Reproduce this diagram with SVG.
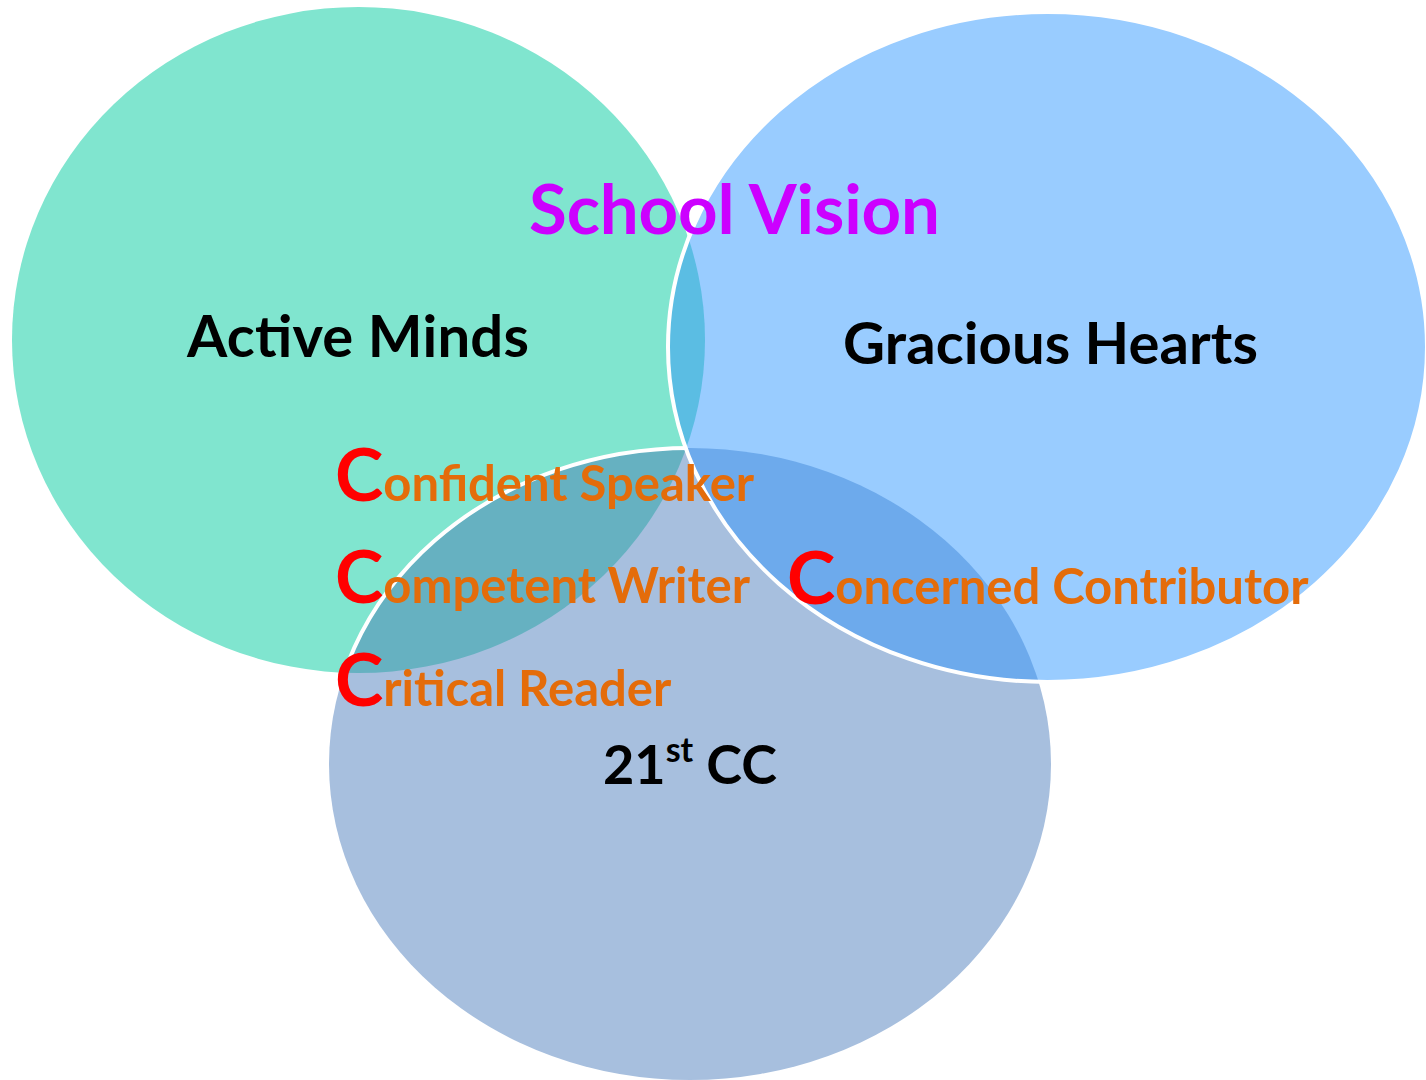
<svg xmlns="http://www.w3.org/2000/svg" width="1426" height="1080" viewBox="0 0 1426 1080">
  <style>
    text { font-family: Lato, "Open Sans", "Liberation Sans", sans-serif; font-weight: 700; }
    .lbl { fill: #000000; font-size: 58px; }
    .sub { fill: #000000; font-size: 54px; }
    .title { fill: #CC00FF; font-size: 69px; }
    .cc { fill: #FF0000; font-size: 73px; }
    .or { fill: #E46C0A; font-size: 49px; }
    .edge { fill: none; stroke: #FFFFFF; stroke-width: 4; }
  </style>
  <defs>
    <clipPath id="clipL"><ellipse cx="358.5" cy="340" rx="346.5" ry="333"/></clipPath>
    <clipPath id="clipR"><ellipse cx="1047.5" cy="347" rx="379.5" ry="335"/></clipPath>
    <mask id="maskLnotR" maskUnits="userSpaceOnUse" x="0" y="0" width="1426" height="1080">
      <ellipse cx="358.5" cy="340" rx="346.5" ry="333" fill="#FFFFFF"/>
      <ellipse cx="1047.5" cy="347" rx="379.5" ry="335" fill="#000000"/>
    </mask>
  </defs>

  <g id="node-active-minds">
    <ellipse cx="358.5" cy="340" rx="346.5" ry="333" fill="#80E5CF"/>
  </g>
  <g id="node-21st-cc">
    <ellipse cx="690" cy="764" rx="361" ry="316" fill="#A7BFDE"/>
  </g>
  <g id="node-gracious-hearts">
    <ellipse cx="1047.5" cy="347" rx="379.5" ry="335" fill="#99CCFF"/>
  </g>

  <g id="overlaps">
    <g clip-path="url(#clipR)">
      <ellipse cx="358.5" cy="340" rx="346.5" ry="333" fill="#5BBDE3"/>
    </g>
    <g clip-path="url(#clipL)">
      <ellipse cx="690" cy="764" rx="361" ry="316" fill="#66B1C1"/>
    </g>
    <g clip-path="url(#clipR)">
      <ellipse cx="690" cy="764" rx="361" ry="316" fill="#6DAAEC"/>
    </g>
  </g>

  <g id="outlines">
    <ellipse class="edge" cx="690" cy="764" rx="361" ry="316" mask="url(#maskLnotR)"/>
    <ellipse class="edge" cx="1047.5" cy="347" rx="379.5" ry="335"/>
  </g>

  <g id="labels">
    <text class="title" x="529" y="234" textLength="411">School Vision</text>
    <text class="lbl" x="187" y="357" textLength="342">Active Minds</text>
    <text class="lbl" x="843" y="364" textLength="415">Gracious Hearts</text>
    <text class="sub" x="603" y="784">21<tspan font-size="34" dy="-22">st</tspan><tspan dy="22"> CC</tspan></text>
    <text x="335" y="501"><tspan class="cc">C</tspan><tspan class="or">onfident Speaker</tspan></text>
    <text x="335" y="603"><tspan class="cc">C</tspan><tspan class="or">ompetent Writer</tspan></text>
    <text x="335" y="706"><tspan class="cc">C</tspan><tspan class="or">ritical Reader</tspan></text>
    <text x="787" y="604"><tspan class="cc">C</tspan><tspan class="or">oncerned Contributor</tspan></text>
  </g>
</svg>
